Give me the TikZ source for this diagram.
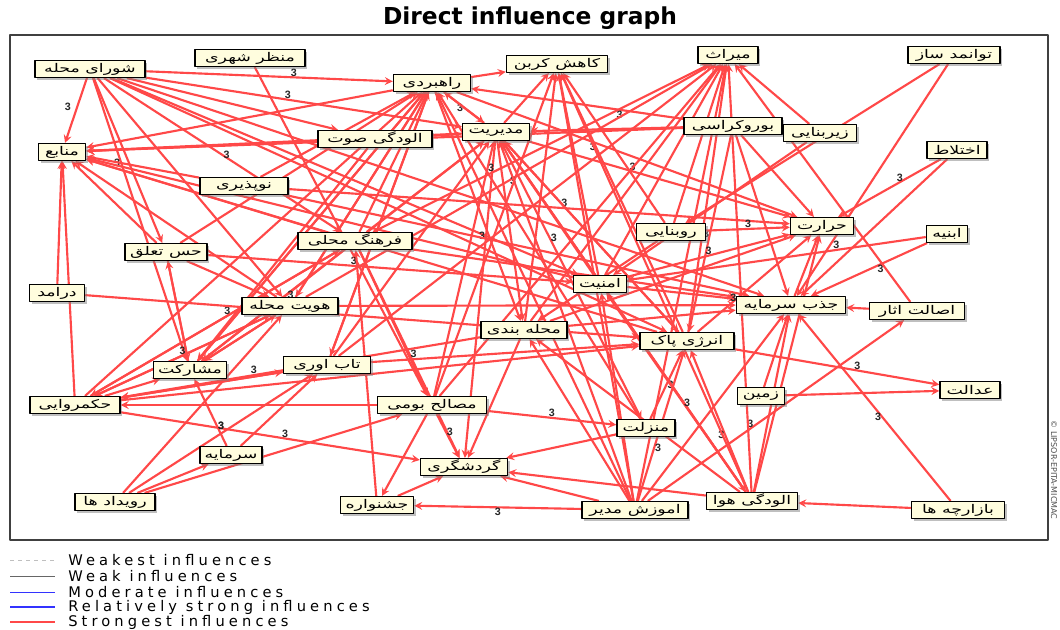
\documentclass[tikz,border=0pt]{standalone}
\usepackage{fontspec}
\usepackage{graphicx}
\setmainfont{DejaVu Sans}
\newfontfamily\fafont[Script=Arabic]{DejaVu Sans}
\newfontfamily\lgfont[LetterSpace=28]{DejaVu Sans}
\newfontfamily\numfont{Liberation Sans}
\TeXXeTstate=1
\usetikzlibrary{shadows,backgrounds}
\definecolor{edgered}{RGB}{255,72,72}
\definecolor{boxfill}{RGB}{255,253,222}
\newcommand\fatext[1]{\scalebox{1.45}[1]{\beginR #1\endR}}

\begin{document}
\begin{tikzpicture}[x=0.75pt,y=-0.75pt,line join=round,>=stealth,
	box/.style={draw=black,line width=1.1pt,fill=boxfill,inner sep=1pt,minimum height=12.5pt,
		font=\fafont\fontsize{9}{10}\selectfont,drop shadow={shadow xshift=1.8pt,shadow yshift=-1.8pt,fill=black!50}},
	wd/.style={minimum width=#1*0.75pt},
	edge/.style={->,draw=edgered,line width=1.6pt},
	num/.style={font=\numfont\bfseries\fontsize{8}{9}\selectfont,text=black!85,inner sep=0pt},
	leg/.style={anchor=west,font=\lgfont\fontsize{11}{12}\selectfont,inner sep=0pt}]
	\useasboundingbox (0,0) rectangle (1060,630);
	\node[font=\bfseries\fontsize{17.5}{19}\selectfont] (title) at (530,18) {Direct influence graph};
	\draw[black!75,line width=1.1pt] (10,35) rectangle (1048,540);

	% variables
	\node[box,wd=110] (shura) at (90,69) {\fatext{شورای محله}};
	\node[box,wd=110] (manzar) at (250,58) {\fatext{منظر شهری}};
	\node[box,wd=77] (rah) at (432,83) {\fatext{راهبردی}};
	\node[box,wd=101] (karbon) at (557,64) {\fatext{کاهش کربن}};
	\node[box,wd=60] (miras) at (728,55) {\fatext{میراث}};
	\node[box,wd=92] (tavan) at (954,55) {\fatext{توانمد ساز}};
	\node[box,wd=47] (manabe) at (62,152) {\fatext{منابع}};
	\node[box,wd=114] (soti) at (375,139) {\fatext{الودگی صوت}};
	\node[box,wd=67] (modir) at (496,132) {\fatext{مدیریت}};
	\node[box,wd=98] (buro) at (733,126) {\fatext{بوروکراسی}};
	\node[box,wd=73] (zirb) at (820,133) {\fatext{زیربنایی}};
	\node[box,wd=60] (ekhtelat) at (957,150) {\fatext{اختلاط}};
	\node[box,wd=88] (nopaz) at (244,186) {\fatext{نوپذیری}};
	\node[box,wd=82] (hes) at (166,252) {\fatext{حس تعلق}};
	\node[box,wd=114] (farhang) at (355,241) {\fatext{فرهنگ محلی}};
	\node[box,wd=69] (rub) at (671,232) {\fatext{روبنایی}};
	\node[box,wd=63] (harar) at (822,226) {\fatext{حرارت}};
	\node[box,wd=41] (abnie) at (947,234) {\fatext{ابنیه}};
	\node[box,wd=55] (daramad) at (57,293) {\fatext{درامد}};
	\node[box,wd=96] (hoviat) at (290,306) {\fatext{هویت محله}};
	\node[box,wd=53] (amniat) at (600,284) {\fatext{امنیت}};
	\node[box,wd=109] (jazb) at (791,305) {\fatext{جذب سرمایه}};
	\node[box,wd=95] (esalat) at (917,311) {\fatext{اصالت اثار}};
	\node[box,wd=86] (mahale) at (524,330) {\fatext{محله بندی}};
	\node[box,wd=94] (energy) at (687,341) {\fatext{انرژی پاک}};
	\node[box,wd=73] (mosharekat) at (190,370) {\fatext{مشارکت}};
	\node[box,wd=87] (tab) at (327,365) {\fatext{تاب اوری}};
	\node[box,wd=90] (hokm) at (75,405) {\fatext{حکمروایی}};
	\node[box,wd=109] (masaleh) at (432,405) {\fatext{مصالح بومی}};
	\node[box,wd=47] (zamin) at (761,396) {\fatext{زمین}};
	\node[box,wd=60] (edalat) at (970,390) {\fatext{عدالت}};
	\node[box,wd=58] (manzelat) at (646,428) {\fatext{منزلت}};
	\node[box,wd=62] (sarmaye) at (231,455) {\fatext{سرمایه}};
	\node[box,wd=87] (gardesh) at (464,467) {\fatext{گردشگری}};
	\node[box,wd=80] (royd) at (115,502) {\fatext{رویداد ها}};
	\node[box,wd=73] (jashn) at (377,505) {\fatext{جشنواره}};
	\node[box,wd=106] (amuzesh) at (635,510) {\fatext{اموزش مدیر}};
	\node[box,wd=91] (havaa) at (752,501) {\fatext{الودگی هوا}};
	\node[box,wd=93] (bazar) at (958,510) {\fatext{بازارچه ها}};

	\begin{scope}[on background layer]
	\draw[edge] (shura) -- node[num,pos=.45,left=4pt] {3} (manabe);
	\draw[edge] (shura) -- node[num,pos=.6,above] {3} (rah);
	\draw[edge] (shura) -- node[num,pos=.45,above] {3} (modir);
	\draw[edge] (shura) -- (soti);
	\draw[edge] (shura) -- (hes);
	\draw[edge] (shura) -- node[num,pos=.3,left] {3} (mosharekat);
	\draw[edge] (shura) -- (hoviat);
	\draw[edge] (shura) -- node[num,pos=.5,right] {3} (farhang);
	\draw[edge] (shura) -- (amniat);
	\draw[edge] (shura) -- (jazb);
	\draw[edge] (shura) -- (energy);
	\draw[edge] (manzar) -- (masaleh);
	\draw[edge] (rah) -- (karbon);
	\draw[edge] (rah) -- node[num,pos=.5,left] {3} (modir);
	\draw[edge] (rah) -- (manabe);
	\draw[edge] (rah) -- (mosharekat);
	\draw[edge] (rah) -- (hoviat);
	\draw[edge] (rah) -- (tab);
	\draw[edge] (rah) -- (mahale);
	\draw[edge] (rah) -- node[num,pos=.4,below] {3} (harar);
	\draw[edge] (soti) -- (manabe);
	\draw[edge] (soti) -- (modir);
	\draw[edge] (soti) -- (mosharekat);
	\draw[edge] (modir) -- (karbon);
	\draw[edge] (modir) -- (rah);
	\draw[edge] (modir) -- node[num,pos=.4,above] {3} (harar);
	\draw[edge] (modir) -- (energy);
	\draw[edge] (modir) -- node[num,pos=.35,right] {3} (manzelat);
	\draw[edge] (modir) -- (havaa);
	\draw[edge] (modir) -- (mahale);
	\draw[edge] (modir) -- node[num,pos=.3,left] {3} (gardesh);
	\draw[edge] (modir) -- (manabe);
	\draw[edge] (buro) -- node[num,pos=.3,below] {3} (rah);
	\draw[edge] (buro) -- (modir);
	\draw[edge] (buro) -- (jazb);
	\draw[edge] (buro) -- (harar);
	\draw[edge] (buro) -- (manabe);
	\draw[edge] (buro) -- node[num,pos=.5,left] {3} (energy);
	\draw[edge] (zirb) -- (miras);
	\draw[edge] (zirb) -- (amniat);
	\draw[edge] (tavan) -- (jazb);
	\draw[edge] (tavan) -- (rub);
	\draw[edge] (ekhtelat) -- node[num,pos=.4,above] {3} (harar);
	\draw[edge] (ekhtelat) -- (jazb);
	\draw[edge] (abnie) -- node[num,pos=.3,above] {3} (amniat);
	\draw[edge] (abnie) -- node[num,pos=.4,below] {3} (jazb);
	\draw[edge] (esalat) -- (jazb);
	\draw[edge] (esalat) -- (miras);
	\draw[edge] (nopaz) -- (rah);
	\draw[edge] (nopaz) -- (manabe);
	\draw[edge] (nopaz) -- node[num,pos=.55,above] {3} (harar);
	\draw[edge] (nopaz) -- (jazb);
	\draw[edge] (hes) -- (rah);
	\draw[edge] (hes) -- (hoviat);
	\draw[edge] (hes) -- (mosharekat);
	\draw[edge] (hes) -- node[num,pos=.4,above] {3} (amniat);
	\draw[edge] (hes) -- (manabe);
	\draw[edge] (farhang) -- (rah);
	\draw[edge] (farhang) -- (modir);
	\draw[edge] (farhang) -- (manabe);
	\draw[edge] (farhang) -- node[num,pos=.35,above] {3} (miras);
	\draw[edge] (farhang) -- (mosharekat);
	\draw[edge] (farhang) -- node[num,pos=.5,right] {3} (gardesh);
	\draw[edge] (farhang) -- (masaleh);
	\draw[edge] (farhang) -- node[num,pos=.45,above] {3} (hokm);
	\draw[edge] (farhang) -- (jazb);
	\draw[edge] (rub) -- node[num,pos=.5,above] {3} (harar);
	\draw[edge] (rub) -- (karbon);
	\draw[edge] (rub) -- (miras);
	\draw[edge] (rub) -- (mahale);
	\draw[edge] (jazb) -- (harar);
	\draw[edge] (daramad) -- (manabe);
	\draw[edge] (daramad) -- node[num,pos=.45,above] {3} (energy);
	\draw[edge] (hoviat) -- (rah);
	\draw[edge] (hoviat) -- (manabe);
	\draw[edge] (hoviat) -- node[num,pos=.5,right] {3} (miras);
	\draw[edge] (hoviat) -- (jazb);
	\draw[edge] (hoviat) -- (mosharekat);
	\draw[edge] (hoviat) -- node[num,pos=.5,above] {3} (hokm);
	\draw[edge] (amniat) -- (karbon);
	\draw[edge] (amniat) -- (modir);
	\draw[edge] (amniat) -- (miras);
	\draw[edge] (amniat) -- node[num,pos=.5,above] {3} (harar);
	\draw[edge] (amniat) -- (jazb);
	\draw[edge] (amniat) -- (manabe);
	\draw[edge] (mahale) -- (miras);
	\draw[edge] (mahale) -- (karbon);
	\draw[edge] (mahale) -- (harar);
	\draw[edge] (mahale) -- node[num,pos=.63,above] {3} (hokm);
	\draw[edge] (mahale) -- (gardesh);
	\draw[edge] (mahale) -- (jazb);
	\draw[edge] (energy) -- (karbon);
	\draw[edge] (energy) -- (miras);
	\draw[edge] (energy) -- node[num,pos=.35,left] {3} (harar);
	\draw[edge] (energy) -- node[num,pos=.6,above] {3} (edalat);
	\draw[edge] (energy) -- (manabe);
	\draw[edge] (energy) -- (modir);
	\draw[edge] (mosharekat) -- (rah);
	\draw[edge] (mosharekat) -- (hes);
	\draw[edge] (mosharekat) -- (hoviat);
	\draw[edge] (mosharekat) -- node[num,pos=.3,right] {3} (modir);
	\draw[edge] (tab) -- (rah);
	\draw[edge] (tab) -- (miras);
	\draw[edge] (tab) -- (hokm);
	\draw[edge] (tab) -- (modir);
	\draw[edge] (tab) -- (energy);
	\draw[edge] (hokm) -- (manabe);
	\draw[edge] (hokm) -- (mosharekat);
	\draw[edge] (hokm) -- (tab);
	\draw[edge] (hokm) -- (hoviat);
	\draw[edge] (hokm) -- (rah);
	\draw[edge] (hokm) -- (farhang);
	\draw[edge] (hokm) -- node[num,pos=.55,above] {3} (gardesh);
	\draw[edge] (hokm) -- (energy);
	\draw[edge] (masaleh) -- (miras);
	\draw[edge] (masaleh) -- node[num,pos=.4,right] {3} (gardesh);
	\draw[edge] (masaleh) -- (jashn);
	\draw[edge] (masaleh) -- (karbon);
	\draw[edge] (masaleh) -- (modir);
	\draw[edge] (masaleh) -- (hokm);
	\draw[edge] (masaleh) -- node[num,pos=.5,above] {3} (manzelat);
	\draw[edge] (zamin) -- (edalat);
	\draw[edge] (zamin) -- (jazb);
	\draw[edge] (manzelat) -- (gardesh);
	\draw[edge] (manzelat) -- node[num,pos=.5,right] {3} (energy);
	\draw[edge] (manzelat) -- (rah);
	\draw[edge] (sarmaye) -- node[num,pos=.3,right] {3} (mosharekat);
	\draw[edge] (sarmaye) -- (tab);
	\draw[edge] (royd) -- (sarmaye);
	\draw[edge] (royd) -- (hoviat);
	\draw[edge] (royd) -- node[num,pos=.5,above=2pt] {3} (tab);
	\draw[edge] (royd) -- (masaleh);
	\draw[edge] (jashn) -- (farhang);
	\draw[edge] (jashn) -- (gardesh);
	\draw[edge] (amuzesh) -- (gardesh);
	\draw[edge] (amuzesh) -- (modir);
	\draw[edge] (amuzesh) -- (rah);
	\draw[edge] (amuzesh) -- (karbon);
	\draw[edge] (amuzesh) -- (miras);
	\draw[edge] (amuzesh) -- node[num,pos=.35,right] {3} (energy);
	\draw[edge] (amuzesh) -- (mahale);
	\draw[edge] (amuzesh) -- (amniat);
	\draw[edge] (amuzesh) -- (jazb);
	\draw[edge] (amuzesh) -- node[num,pos=.4,above] {3} (esalat);
	\draw[edge] (amuzesh) -- node[num,pos=.5,below] {3} (jashn);
	\draw[edge] (havaa) -- (jazb);
	\draw[edge] (havaa) -- (harar);
	\draw[edge] (havaa) -- node[num,pos=.4,left] {3} (energy);
	\draw[edge] (havaa) -- (karbon);
	\draw[edge] (havaa) -- (miras);
	\draw[edge] (havaa) -- (modir);
	\draw[edge] (havaa) -- (mahale);
	\draw[edge] (havaa) -- (gardesh);
	\draw[edge] (havaa) -- node[num,pos=.45,right] {3} (amniat);
	\draw[edge] (bazar) -- node[num,pos=.45,left] {3} (jazb);
	\draw[edge] (bazar) -- (havaa);
	\end{scope}

	% legend
	\draw[black!25,dashed,line width=.6pt] (10,560) -- (55,560);
	\draw[black!60,line width=.7pt] (10,576) -- (55,576);
	\draw[blue!80,line width=.7pt] (10,592) -- (55,592);
	\draw[blue!80,line width=1.3pt] (10,607) -- (55,607);
	\draw[edgered,line width=1.6pt] (10,622) -- (55,622);
	\node[leg] (l1) at (68,560) {Weakest influences};
	\node[leg] (l2) at (68,576) {Weak influences};
	\node[leg] (l3) at (68,592) {Moderate influences};
	\node[leg] (l4) at (68,607) {Relatively strong influences};
	\node[leg] (l5) at (68,622) {Strongest influences};
	\node[rotate=-90,font=\fontsize{6}{7}\selectfont,text=black!70,inner sep=0pt] (copy) at (1054,470) {© LIPSOR-EPITA-MICMAC};
\end{tikzpicture}
\end{document}
